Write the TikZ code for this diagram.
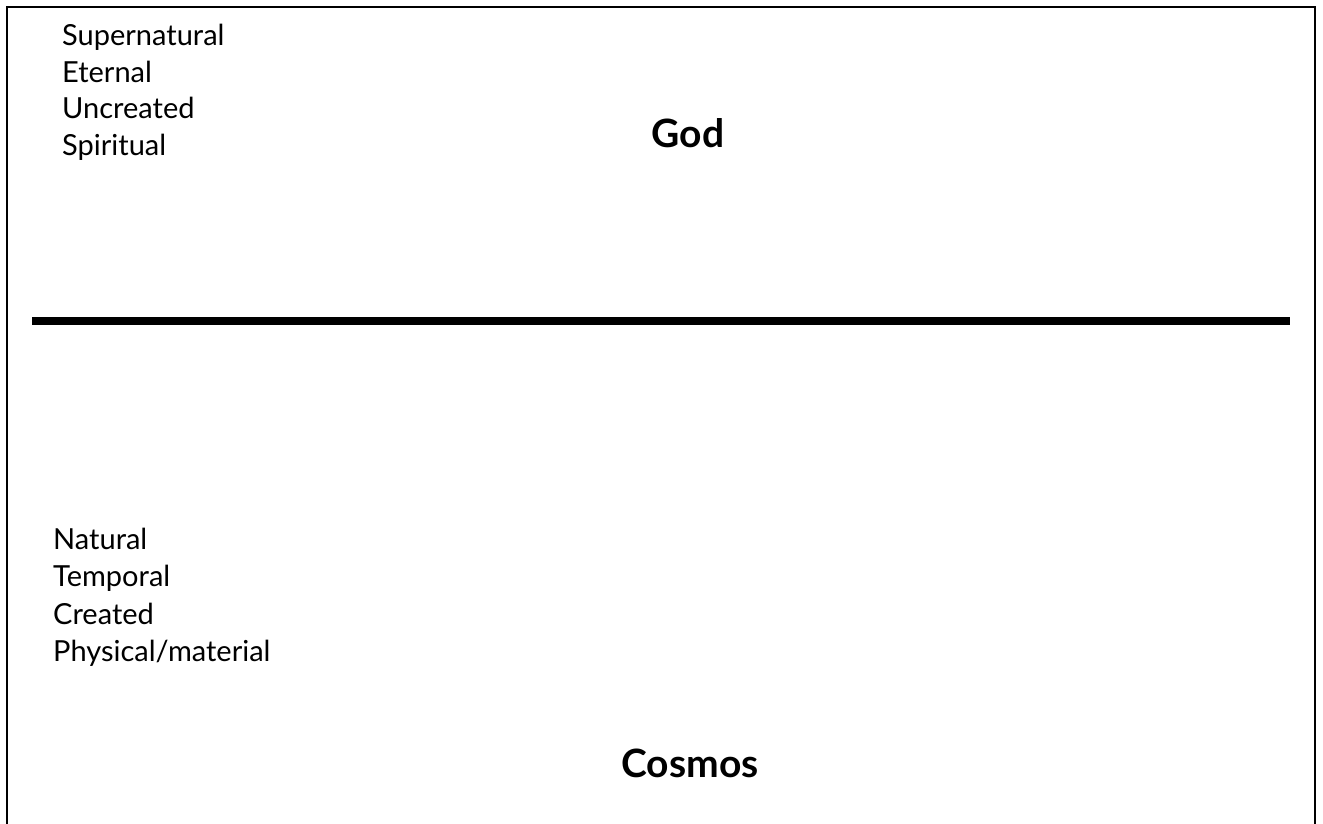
\documentclass[tikz,border=0pt]{standalone}
\usepackage{fontspec}
\setmainfont{Lato}
\tikzset{
  item/.style={anchor=base west, inner sep=0pt, font=\fontsize{29}{34}\selectfont},
  title/.style={anchor=base, inner sep=0pt, font=\fontsize{39}{46}\selectfont\bfseries},
  frame/.style={line width=2.5pt, black},
  divider/.style={line width=8pt, black}
}
\begin{document}
\begin{tikzpicture}[x=1pt,y=-1pt]
\useasboundingbox (0,0) rectangle (1323,823);
\coordinate (fbl) at (7,830);
\coordinate (ftl) at (7,7);
\coordinate (ftr) at (1315,7);
\coordinate (fbr) at (1315,830);
\draw[frame] (fbl) -- (ftl) -- (ftr) -- (fbr);
\coordinate (dl) at (32,321);
\coordinate (dr) at (1290,321);
\draw[divider] (dl) -- (dr);
\node[item] (u1) at (62,45) {Supernatural};
\node[item] (u2) at (62,82) {Eternal};
\node[item] (u3) at (62,118) {Uncreated};
\node[item] (u4) at (62,155) {Spiritual};
\node[title] (god) at (688,147) {God};
\node[item] (l1) at (53,549) {Natural};
\node[item] (l2) at (53,586) {Temporal};
\node[item] (l3) at (53,624) {Created};
\node[item] (l4) at (53,661) {Physical/material};
\node[title] (cosmos) at (690,777) {Cosmos};
\end{tikzpicture}
\end{document}
